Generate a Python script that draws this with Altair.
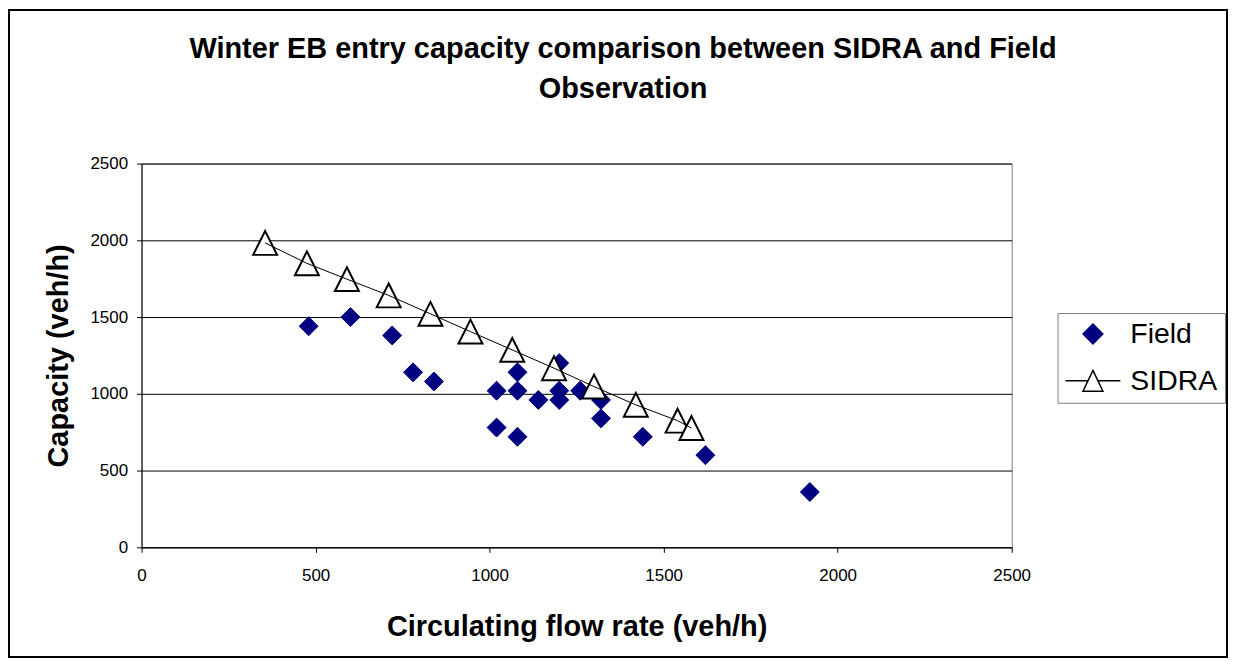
import altair as alt
import pandas as pd

# ---- data ----
field_x = [480, 600, 720, 780, 840, 1020, 1020, 1080, 1080, 1080, 1140, 1200, 1200, 1200, 1260, 1320, 1320, 1440, 1620, 1920]
field_y = [1440, 1500, 1380, 1140, 1080, 1020, 780, 1140, 1020, 720, 960, 1200, 1020, 960, 1020, 960, 840, 720, 600, 360]
sidra_x = [355, 475, 590, 710, 830, 945, 1065, 1185, 1300, 1420, 1540, 1580]
sidra_y = [1983, 1850, 1747, 1641, 1521, 1405, 1286, 1167, 1047, 928, 825, 777]
series = ["Field", "SIDRA"]
x_ticks = [0, 500, 1000, 1500, 2000, 2500]
y_ticks = [0, 500, 1000, 1500, 2000, 2500]
title_lines = ["Winter EB entry capacity comparison between SIDRA and Field", "Observation"]
x_title = "Circulating flow rate (veh/h)"
y_title = "Capacity (veh/h)"

field_df = pd.DataFrame({"flow": field_x, "cap": field_y, "series": "Field"})
sidra_df = pd.DataFrame({"flow": sidra_x, "cap": sidra_y, "series": "SIDRA"})

FONT = "Liberation Sans, Arial, sans-serif"
W, H = 873, 385

diamond_path = "M0,-0.36L0.36,0L0,0.36L-0.36,0Z"
sidra_legend_path = "M-1,0H-0.18M0.18,0H1M0,-0.38L0.364,0.38L-0.364,0.38Z"
triangle_path = "M0,-1L1,1L-1,1Z"

xs = alt.Scale(domain=[0, 2500], nice=False, zero=False)
ys = alt.Scale(domain=[0, 2500], nice=False)

x_axis = alt.Axis(values=x_ticks, format="d", grid=False, tickSize=5, tickColor="black", tickWidth=1,
                  domainColor="black", domainWidth=1, labelFlush=False,
                  labelFontSize=17, labelPadding=15, labelColor="black", labelFont=FONT,
                  title=x_title, titleFont=FONT, titleFontSize=29, titleFontWeight="bold",
                  titleColor="black", titleY=88, titleBaseline="alphabetic")
y_axis = alt.Axis(values=y_ticks, format="d", grid=True, gridColor="black", gridWidth=1, gridOpacity=1,
                  tickSize=5, tickColor="black", tickWidth=1, labelFlush=False,
                  domainColor="black", domainWidth=1,
                  labelFontSize=17, labelPadding=9, labelColor="black", labelFont=FONT,
                  title=y_title, titleFont=FONT, titleFontSize=29, titleFontWeight="bold",
                  titleColor="black", titleX=-74, titleY=H / 2, titleAngle=270,
                  titleBaseline="alphabetic", titleAlign="center")

X = alt.X("flow:Q", scale=xs, axis=x_axis)
Y = alt.Y("cap:Q", scale=ys, axis=y_axis)

frame = alt.Chart(alt.Data(values=[{"k": 1}])).mark_rect(
    filled=False, stroke="black", strokeWidth=2
).encode(x=alt.value(-133), x2=alt.value(1089), y=alt.value(-154), y2=alt.value(495))

field_layer = alt.Chart(field_df).mark_point(filled=True, size=2785, strokeWidth=1, opacity=1).encode(
    x=X, y=Y,
    shape=alt.Shape("series:N", scale=alt.Scale(domain=series, range=[diamond_path, sidra_legend_path]),
                    legend=alt.Legend(title=None)),
    fill=alt.Fill("series:N", scale=alt.Scale(domain=series, range=["#000080", "white"]),
                  legend=alt.Legend(title=None)),
    stroke=alt.Stroke("series:N", scale=alt.Scale(domain=series, range=["#000080", "black"]),
                      legend=alt.Legend(title=None)),
)

sidra_points = alt.Chart(sidra_df).mark_point(
    filled=True, shape=triangle_path, size=576, fill="white", stroke="black", strokeWidth=2, opacity=1
).encode(x=X, y=Y)

sidra_line = alt.Chart(sidra_df).mark_line(color="black", strokeWidth=1).encode(x=X, y=Y)

chart = alt.layer(frame, field_layer, sidra_points, sidra_line).properties(
    width=W, height=H,
    autosize=alt.AutoSizeParams(type="none"),
    padding={"left": 134, "top": 155, "right": 217, "bottom": 112},
    background="white",
    title=alt.TitleParams(text=title_lines, fontSize=29, font=FONT, fontWeight="bold", color="black",
                          anchor="middle", baseline="bottom", lineHeight=40, offset=-124, dx=46.5),
).configure_view(stroke="#808080", strokeWidth=1).configure_legend(
    orient="none", legendX=919, legendY=150, padding=7, rowPadding=18, clipHeight=28,
    symbolSize=3025, symbolStrokeWidth=1.5, labelFontSize=28.5, labelFont=FONT,
    labelColor="black", strokeColor="#808080", fillColor="white", labelOffset=9,
)

chart.save("out.html", embed_options={"renderer": "svg", "actions": False})
